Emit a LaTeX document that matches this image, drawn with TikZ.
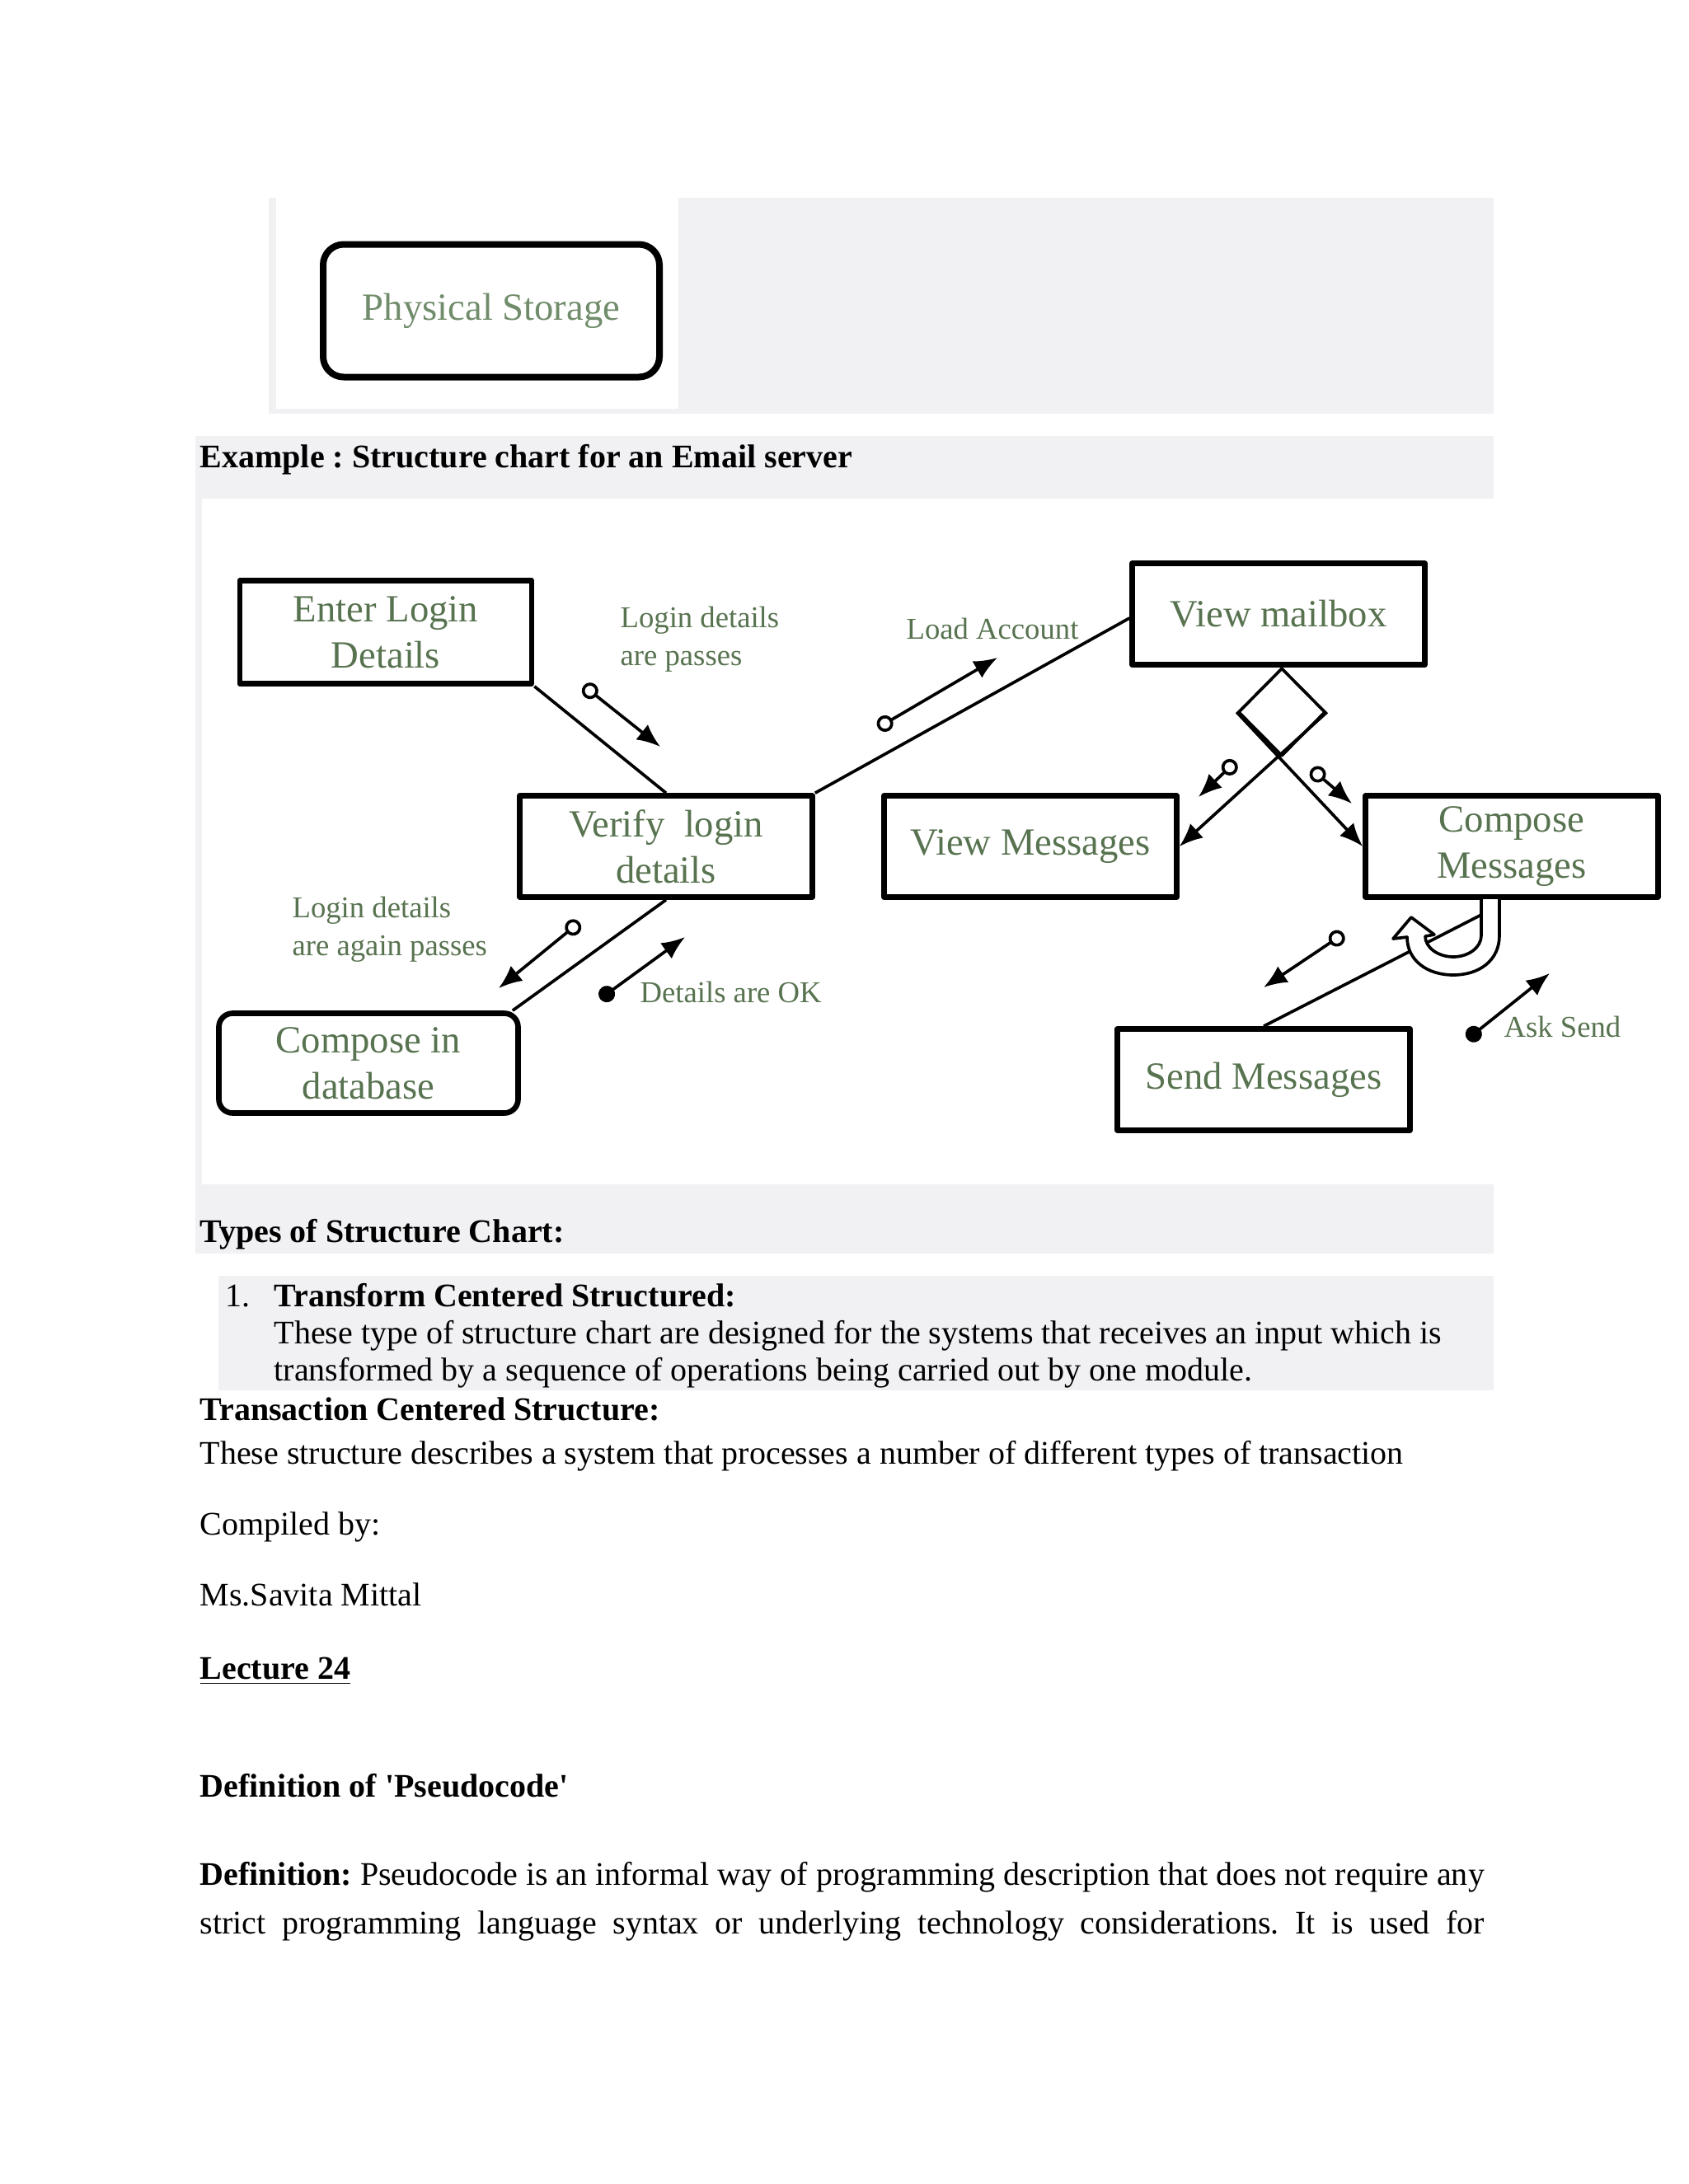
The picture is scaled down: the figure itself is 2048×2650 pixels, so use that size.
\documentclass[tikz,border=0pt]{standalone}
\usepackage{fontspec}
\setmainfont{Liberation Serif}
\usetikzlibrary{arrows.meta,shapes.geometric}
\frenchspacing

\definecolor{pagegray}{RGB}{241,240,243}
\definecolor{chartgreen}{RGB}{88,115,80}
\definecolor{storegreen}{RGB}{112,140,106}

\newcommand{\px}{0.10542mm}
\newcommand{\bodyfont}{\fontsize{12}{14}\selectfont}
\newcommand{\boxfont}{\fontsize{14}{16.8}\selectfont}
\newcommand{\lblfont}{\fontsize{11}{13.7}\selectfont}

\tikzset{
  module/.style={draw, line width=2pt, rectangle, inner sep=0pt, align=center,
    minimum width=355*\px, minimum height=123*\px, font=\boxfont, text=chartgreen},
  conn/.style={line width=1.1pt},
  flow/.style={line width=1.1pt, -{Latex[length=8.5pt,width=7pt]}},
  datacouple/.style={line width=1.1pt, {Circle[open,length=6pt]}-{Latex[length=8.5pt,width=7pt]}},
  ctrlcouple/.style={line width=1.1pt, {Circle[length=6pt]}-{Latex[length=8.5pt,width=7pt]}},
  lbl/.style={font=\lblfont, text=chartgreen, inner sep=0pt, align=left},
  para/.style={font=\bodyfont, inner sep=0pt, anchor=base west},
}

\begin{document}
\begin{tikzpicture}[x=0.10542mm, y=-0.10542mm, line join=round]
  \useasboundingbox (0,0) rectangle (2048,2650);

  % shaded page blocks
  \fill[pagegray] (326,240) rectangle (1812,502);
  \fill[white] (335,240) rectangle (823,496);
  \fill[pagegray] (237,529) rectangle (1812,1521);
  \fill[white] (245,605) rectangle (2025,1437);
  \fill[pagegray] (265,1548) rectangle (1812,1687);

  % physical storage symbol
  \node[module, rounded corners=7.5pt, line width=2.4pt, text=storegreen,
    minimum width=408*\px, minimum height=161*\px] (storage) at (596,377) {Physical Storage};

  \node[para] (example) at (242,567) {\textbf{Example : Structure chart for an Email server}};

  % modules
  \node[module, minimum width=354*\px, minimum height=125*\px] (enter) at (468,767) {Enter Login\\Details};
  \node[module] (verify) at (808,1027) {Verify\ \ login\\details};
  \node[module] (mailbox) at (1551,745) {View mailbox};
  \node[module] (viewmsg) at (1250,1027) {View Messages};
  \node[module] (compose) at (1834,1027) {Compose\\Messages};
  \node[module] (send) at (1533,1310) {Send Messages};
  \node[module, rounded corners=5pt, minimum width=363*\px, minimum height=121*\px] (database) at (447,1290) {Compose in\\database};
  \node[draw, diamond, line width=1.1pt, inner sep=0pt,
    minimum width=106*\px, minimum height=107*\px] (sel) at (1555,864) {};

  % calls
  \draw[conn] (enter.south east) -- (verify.north);
  \draw[conn] (verify.north east) -- ([yshift=-1.5pt]mailbox.west);
  \draw[conn] (verify.south) -- ([xshift=-3pt]database.north east);
  \draw[flow] (sel.west) -- (compose.west);
  \draw[flow] (sel.east) -- (viewmsg.east);
  \coordinate (loopend) at (1797,1110);
  \draw[conn] (send.north) -- (loopend);

  % iteration loop
  \draw[line width=1.1pt, fill=white] (1819,1089) -- (1819,1135)
    .. controls (1819,1165) and (1795,1183) .. (1763,1183)
    .. controls (1731,1183) and (1707,1165) .. (1707,1137)
    -- (1690,1139) -- (1712,1113) -- (1740,1134) -- (1729,1136)
    .. controls (1729,1150) and (1745,1161) .. (1763,1161)
    .. controls (1781,1161) and (1797,1150) .. (1797,1135)
    -- (1797,1089) -- cycle;

  % couples
  \coordinate (lp1) at (708,832);   \coordinate (lp2) at (801,906);
  \coordinate (la1) at (1065,883);  \coordinate (la2) at (1210,798);
  \coordinate (ap1) at (703,1119);  \coordinate (ap2) at (605,1199);
  \coordinate (ok1) at (728,1212);  \coordinate (ok2) at (831,1137);
  \coordinate (vm1) at (1499,924);  \coordinate (vm2) at (1454,967);
  \coordinate (cm1) at (1591,933);  \coordinate (cm2) at (1640,975);
  \coordinate (sm1) at (1630,1133); \coordinate (sm2) at (1533,1198);
  \coordinate (as1) at (1780,1261); \coordinate (as2) at (1880,1181);
  \draw[datacouple] (lp1) -- (lp2);
  \draw[datacouple] (la1) -- (la2);
  \draw[datacouple] (ap1) -- (ap2);
  \draw[ctrlcouple] (ok1) -- (ok2);
  \draw[datacouple] (vm1) -- (vm2);
  \draw[datacouple] (cm1) -- (cm2);
  \draw[datacouple] (sm1) -- (sm2);
  \draw[ctrlcouple] (as1) -- (as2);

  % couple labels
  \node[lbl, anchor=west] (lplbl) at (752,776) {Login details\\are passes};
  \node[lbl, anchor=base west] (lalbl) at (1099,775) {Load Account};
  \node[lbl, anchor=west] (aplbl) at (354,1128) {Login details\\are again passes};
  \node[lbl, anchor=base west] (oklbl) at (776,1216) {Details are OK};
  \node[lbl, anchor=base west] (aslbl) at (1824,1258) {Ask Send};

  % text below the chart
  \node[para] (types) at (242,1507) {\textbf{Types of Structure Chart:}};
  \node[para] (num) at (273,1585) {1.};
  \node[para] (transform) at (332,1585) {\textbf{Transform Centered Structured:}};
  \node[para] (tline1) at (332,1630) {These type of structure chart are designed for the systems that receives an input which is};
  \node[para] (tline2) at (332,1675) {transformed by a sequence of operations being carried out by one module.};
  \node[para] (transaction) at (242,1723) {\textbf{Transaction Centered Structure:}};
  \node[para] (trline) at (242,1776) {These structure describes a system that processes a number of different types of transaction};
  \node[para] (compiled) at (242,1862) {Compiled by:};
  \node[para] (author) at (242,1948) {Ms.Savita Mittal};
  \node[para] (lecture) at (242,2037) {\textbf{\underline{Lecture 24}}};
  \node[para] (defhead) at (242,2180) {\textbf{Definition of \textquotesingle Pseudocode\textquotesingle}};
  \node[para] (def1) at (242,2287) {\makebox[467.4pt][s]{\textbf{Definition:} Pseudocode is an informal way of programming description that does not require any}};
  \node[para] (def2) at (242,2346) {\makebox[467.4pt][s]{strict programming language syntax or underlying technology considerations. It is used for}};
\end{tikzpicture}
\end{document}
